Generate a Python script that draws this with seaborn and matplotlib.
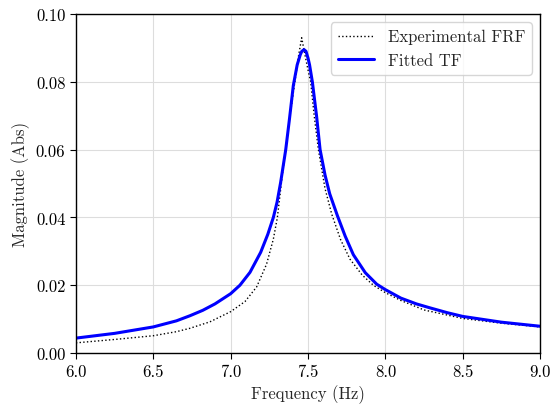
import matplotlib
matplotlib.use("Agg")
import matplotlib.pyplot as plt
import seaborn as sns
import pandas as pd

# Experimental FRF
exp_freq = [6.00, 6.25, 6.50, 6.65, 6.737, 6.866, 7.00, 7.093, 7.168, 7.232, 7.276,
            7.302, 7.336, 7.36, 7.39, 7.415, 7.44, 7.459, 7.48, 7.50, 7.517, 7.54,
            7.567, 7.61, 7.653, 7.71, 7.771, 7.85, 7.922, 8.00, 8.10, 8.25, 8.50,
            8.75, 9.00]
exp_mag = [0.0030, 0.0040, 0.0051, 0.0063, 0.0073, 0.0092, 0.0122, 0.0152, 0.0195,
           0.0262, 0.0336, 0.0400, 0.0533, 0.0620, 0.0720, 0.0800, 0.0880, 0.0930,
           0.0880, 0.0835, 0.0800, 0.0700, 0.0600, 0.0485, 0.0410, 0.0335, 0.0277,
           0.0230, 0.0200, 0.0178, 0.0155, 0.0127, 0.0102, 0.0088, 0.0077]

# Fitted transfer function
fit_freq = [6.00, 6.25, 6.50, 6.65, 6.737, 6.82, 6.899, 7.00, 7.06, 7.125, 7.194,
            7.24, 7.276, 7.30, 7.323, 7.356, 7.38, 7.405, 7.43, 7.45, 7.46, 7.474,
            7.487, 7.50, 7.51, 7.528, 7.555, 7.578, 7.61, 7.64, 7.69, 7.74, 7.793,
            7.87, 7.944, 8.00, 8.10, 8.20, 8.29, 8.40, 8.50, 8.75, 9.00]
fit_mag = [0.0044, 0.0058, 0.0077, 0.0095, 0.0110, 0.0126, 0.0145, 0.0175, 0.0200,
           0.0238, 0.0297, 0.0350, 0.0400, 0.0445, 0.0503, 0.0600, 0.0690, 0.0789,
           0.0850, 0.0880, 0.0890, 0.0895, 0.0890, 0.0870, 0.0850, 0.0800, 0.0700,
           0.0600, 0.0525, 0.0470, 0.0405, 0.0345, 0.0290, 0.0237, 0.0203, 0.0187,
           0.0162, 0.0145, 0.0133, 0.0119, 0.0108, 0.0091, 0.0079]

x_ticks = [6.0, 6.5, 7.0, 7.5, 8.0, 8.5, 9.0]
y_ticks = [0.00, 0.02, 0.04, 0.06, 0.08, 0.10]

sns.set_theme(style="ticks")
plt.rcParams.update({
    "font.family": "serif",
    "font.serif": ["cmr10"],
    "mathtext.fontset": "cm",
    "axes.formatter.use_mathtext": True,
    "axes.unicode_minus": False,
    "font.size": 12,
    "axes.labelsize": 12,
    "xtick.labelsize": 12,
    "ytick.labelsize": 12,
    "legend.fontsize": 12,
    "axes.edgecolor": "black",
    "axes.linewidth": 1.0,
    "xtick.color": "black",
    "ytick.color": "black",
    "lines.solid_joinstyle": "round",
})

df_exp = pd.DataFrame({"f": exp_freq, "m": exp_mag})
df_fit = pd.DataFrame({"f": fit_freq, "m": fit_mag})

fig = plt.figure(figsize=(5.58, 4.06), dpi=100)
ax = fig.add_axes([0.136, 0.128, 0.832, 0.835])

sns.lineplot(data=df_exp, x="f", y="m", ax=ax, color="black", linestyle=":",
             linewidth=1.0, label="Experimental FRF", sort=False)
sns.lineplot(data=df_fit, x="f", y="m", ax=ax, color="blue", linestyle="-",
             linewidth=2.2, label="Fitted TF", sort=False)

ax.set_xlim(6.0, 9.0)
ax.set_ylim(0.0, 0.1)
ax.set_xticks(x_ticks)
ax.set_yticks(y_ticks)
ax.set_xticklabels([f"{t:.1f}" for t in x_ticks])
ax.set_yticklabels([f"{t:.2f}" for t in y_ticks])
ax.set_xlabel("Frequency (Hz)")
ax.set_ylabel("Magnitude (Abs)")
ax.grid(True, color="#dddddd", linewidth=0.8)
ax.set_axisbelow(True)
ax.tick_params(direction="out", length=4, width=0.8)
leg = ax.legend(loc="upper right", frameon=True, fancybox=True, framealpha=0.8,
                edgecolor="#cccccc", handlelength=2.2)

fig.savefig("out.png", dpi=100)
